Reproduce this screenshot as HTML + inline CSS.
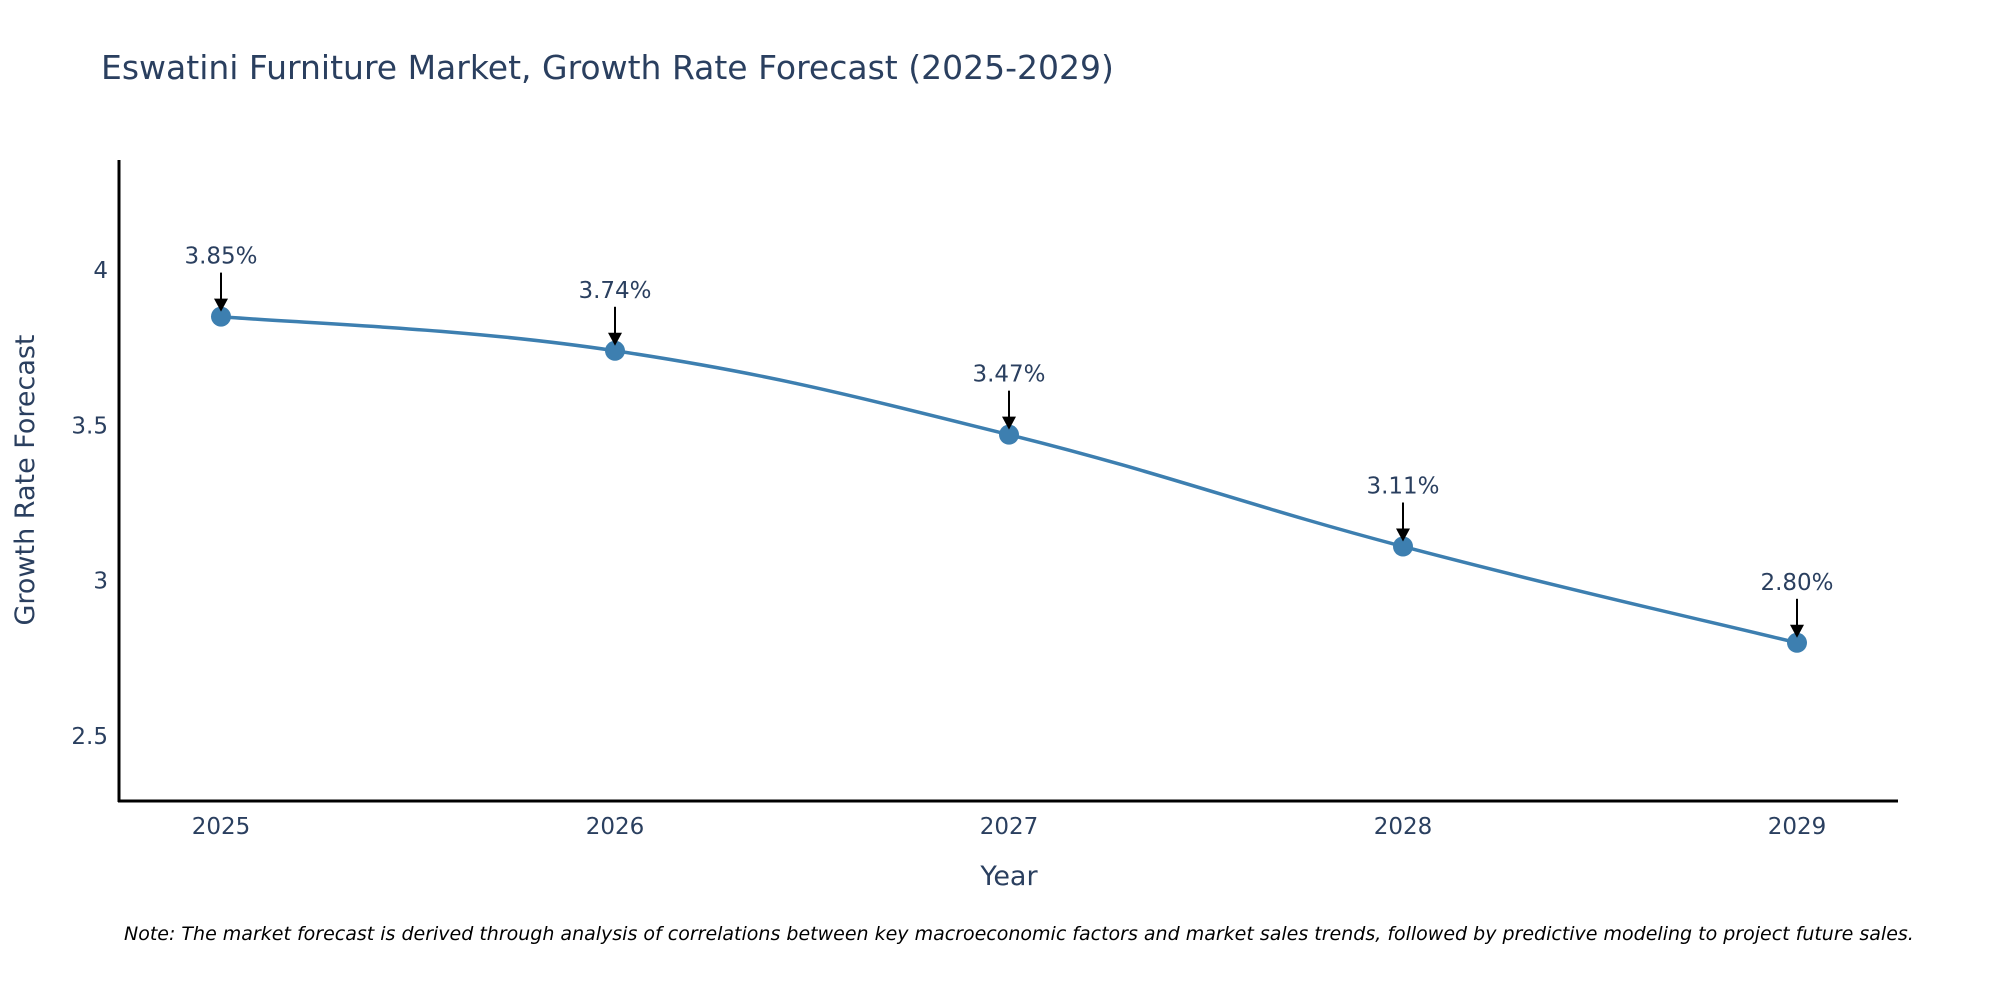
<!DOCTYPE html>
<html><head><meta charset="utf-8"><style>
body{margin:0;background:#fff;}
svg text{font-family:"DejaVu Sans","Liberation Sans",sans-serif;fill:#2a3f5f;}
</style></head><body>
<svg id="chart" width="2000" height="1000" xmlns="http://www.w3.org/2000/svg">
<text x="101" y="79" font-size="33">Eswatini Furniture Market, Growth Rate Forecast (2025-2029)</text>
<g id="yticks"></g>
<g id="xticks"></g>
<path id="line" fill="none" stroke="#3d7fb0" stroke-width="3.5"/>
<g id="pts"></g>
<g id="ann"></g>
<line x1="119" y1="160" x2="119" y2="802" stroke="#000" stroke-width="3"/>
<line x1="118" y1="801" x2="1898" y2="801" stroke="#000" stroke-width="3"/>
<text transform="translate(34,480) rotate(-90)" text-anchor="middle" font-size="27">Growth Rate Forecast</text>
<text x="1009" y="885" text-anchor="middle" font-size="27">Year</text>
<text x="124" y="940" font-size="19" font-style="italic" style="fill:#000">Note: The market forecast is derived through analysis of correlations between key macroeconomic factors and market sales trends, followed by predictive modeling to project future sales.</text>
</svg>
<script>
const years=[2025,2026,2027,2028,2029];
const values=[3.85,3.74,3.47,3.11,2.80];
const labels=["3.85%","3.74%","3.47%","3.11%","2.80%"];
const yTicks=[2.5,3,3.5,4];
const yTickLabels=["2.5","3","3.5","4"];
const NS="http://www.w3.org/2000/svg";
const x=v=>221+(v-2025)*(1797-221)/4;
const y=v=>270+(4-v)*(736-270)/1.5;
function mk(t,a,p){const e=document.createElementNS(NS,t);for(const k in a)e.setAttribute(k,a[k]);p.appendChild(e);return e;}
const yt=document.getElementById('yticks');
yTicks.forEach((t,i)=>{const e=mk('text',{x:108,y:y(t)+8,'text-anchor':'end','font-size':'23'},yt);


e.textContent=yTickLabels[i];});
const xt=document.getElementById('xticks');
years.forEach(t=>{const e=mk('text',{x:x(t),y:834,'text-anchor':'middle','font-size':'23'},xt);


e.textContent=t;});
const P=years.map((t,i)=>[x(t),y(values[i])]);
let d='M'+P[0][0]+','+P[0][1];
const s=0.2;
for(let i=0;i<P.length-1;i++){const p0=P[Math.max(0,i-1)],p1=P[i],p2=P[i+1],p3=P[Math.min(P.length-1,i+2)];
const c1=[p1[0]+(p2[0]-p0[0])*s,p1[1]+(p2[1]-p0[1])*s],c2=[p2[0]-(p3[0]-p1[0])*s,p2[1]-(p3[1]-p1[1])*s];
d+=` C${c1[0]},${c1[1]} ${c2[0]},${c2[1]} ${p2[0]},${p2[1]}`;}
document.getElementById('line').setAttribute('d',d);
const pts=document.getElementById('pts'),ann=document.getElementById('ann');
P.forEach((p,i)=>{const c=mk('circle',{cx:p[0],cy:p[1],r:10,fill:'#3d7fb0'},pts);


const g=mk('g',{},ann);


mk('line',{x1:p[0],y1:p[1]-44,x2:p[0],y2:p[1]-16,stroke:'#000','stroke-width':2},g);
mk('path',{d:`M${p[0]-7},${p[1]-18} L${p[0]+7},${p[1]-18} L${p[0]},${p[1]-5} Z`,fill:'#000'},g);
const t=mk('text',{x:p[0],y:p[1]-53,'text-anchor':'middle','font-size':'23'},g);t.textContent=labels[i];});
</script>
</body></html>
